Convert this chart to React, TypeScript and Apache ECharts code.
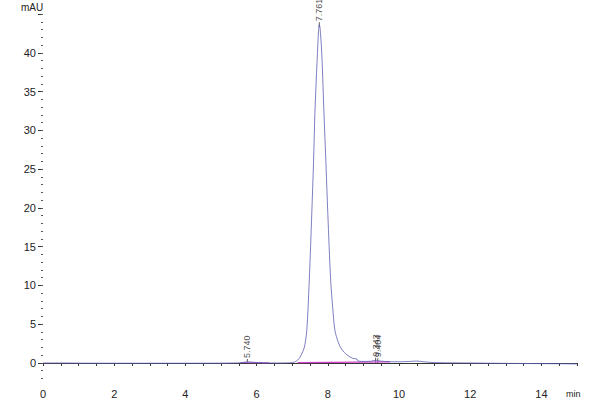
import { useEffect, useRef } from 'react'
import * as echarts from 'echarts'

// retention time (min) / signal (mAU)
const signal: [number, number][] = [
  [0, 0], [0.6, 0], [1, -0.02], [2, -0.03], [3, -0.03], [4, -0.03], [5, -0.02],
  [5.4, 0], [5.6, 0.05], [5.74, 0.15], [5.9, 0.1], [6.2, 0.02], [6.6, 0],
  [7.0, 0.05], [7.1, 0.2], [7.2, 0.6], [7.3, 1.5], [7.35, 2.2], [7.41, 4.2],
  [7.48, 10.7], [7.55, 19.3], [7.6, 26], [7.64, 32.5], [7.7, 39], [7.74, 42.8],
  [7.761, 43.6], [7.78, 43.3], [7.83, 40], [7.89, 32.5], [7.95, 25.5], [8.0, 19.3],
  [8.08, 10.7], [8.14, 7], [8.2, 4.2], [8.3, 2.6], [8.4, 1.7], [8.55, 1.0],
  [8.7, 0.6], [8.82, 0.5], [8.85, 0.25], [9.0, 0.2], [9.2, 0.22], [9.343, 0.35],
  [9.404, 0.3], [9.6, 0.2], [10, 0.15], [10.3, 0.2], [10.5, 0.25], [10.7, 0.15],
  [11, 0.05], [12, 0], [13, -0.05], [14, -0.08], [15, -0.12],
]

// integration baselines
const baselineA: [number, number][] = [[5.55, 0.05], [6.35, 0.02]]
const baselineB: [number, number][] = [[7.15, 0.05], [9.75, 0.15]]

// peak labels: retention time, anchor height
const peakTimes = ['5.740', '7.761', '9.343', '9.404']
const peakHeights = [0.2, 43.6, 0.35, 0.3]

const xLabels = [0, 2, 4, 6, 8, 10, 12, 14]
const xTicks = [0, 0.5, 1, 1.5, 2, 2.5, 3, 3.5, 4, 4.5, 5, 5.5, 6, 6.5, 7, 7.5, 8, 8.5, 9, 9.5, 10, 10.5, 11, 11.5, 12, 12.5, 13, 13.5, 14, 14.5, 15]
const yLabels = [0, 5, 10, 15, 20, 25, 30, 35, 40]
const yMajorTicks = [0, 5, 10, 15, 20, 25, 30, 35, 40, 45]
const yMinorTicks = [-2, -1, 0, 1, 2, 3, 4, 5, 6, 7, 8, 9, 10, 11, 12, 13, 14, 15, 16, 17, 18, 19, 20, 21, 22, 23, 24, 25, 26, 27, 28, 29, 30, 31, 32, 33, 34, 35, 36, 37, 38, 39, 40, 41, 42, 43, 44, 45]

const FONT = '"Liberation Sans Narrow", "Liberation Sans", Arial, sans-serif'

export default function App() {
  const chartRef = useRef<HTMLDivElement>(null)

  useEffect(() => {
    if (!chartRef.current) return
    const chart = echarts.init(chartRef.current, undefined, { renderer: 'svg' })

    const option: echarts.EChartsOption = {
      animation: false,
      backgroundColor: '#fff',
      textStyle: { fontFamily: FONT },
      grid: { left: 43, right: 23, top: 14, bottom: 21.5 },
      xAxis: {
        type: 'value',
        min: 0,
        max: 15,
        offset: 3.5,
        splitLine: { show: false },
        axisLine: { lineStyle: { color: '#333', width: 1 } },
        axisTick: { customValues: xTicks, length: 3, lineStyle: { color: '#333' } },
        axisLabel: { customValues: xLabels, color: '#222', fontSize: 11, margin: 6, fontFamily: FONT },
      },
      yAxis: [
        {
          type: 'value',
          min: -2,
          max: 45,
          splitLine: { show: false },
          axisLine: { show: false },
          axisTick: { show: true, customValues: yMajorTicks, length: 5, lineStyle: { color: '#333' } },
          axisLabel: { customValues: yLabels, color: '#222', fontSize: 11, margin: 7, fontFamily: FONT },
        },
        {
          type: 'value',
          min: -2,
          max: 45,
          position: 'left',
          splitLine: { show: false },
          axisLine: { show: false },
          axisTick: { show: true, customValues: yMinorTicks, length: 2, lineStyle: { color: '#555' } },
          axisLabel: { show: false },
        },
      ],
      graphic: [
        { type: 'text', left: 21, top: 2, style: { text: 'mAU', fontSize: 10, fill: '#222', fontFamily: FONT } },
        { type: 'text', left: 566, top: 389, style: { text: 'min', fontSize: 9, fill: '#222', fontFamily: FONT } },
      ],
      series: [
        {
          type: 'line',
          data: baselineA,
          showSymbol: false,
          lineStyle: { color: '#c050d0', width: 1 },
          silent: true,
        },
        {
          type: 'line',
          data: baselineB,
          showSymbol: false,
          lineStyle: { color: '#d040c8', width: 1.2 },
          silent: true,
        },
        {
          type: 'line',
          data: signal,
          showSymbol: false,
          smooth: 0.3,
          lineStyle: { color: '#5e5eb4', width: 0.8 },
          silent: true,
        },
        {
          type: 'scatter',
          data: peakTimes.map((t, i) => [Number(t), peakHeights[i]]),
          symbol: 'rect',
          symbolSize: [1, 5],
          itemStyle: { color: '#333' },
          silent: true,
          label: {
            show: true,
            position: 'top',
            rotate: 90,
            align: 'left',
            verticalAlign: 'middle',
            distance: 1,
            fontSize: 9,
            color: '#222',
            fontFamily: FONT,
            formatter: (p: any) => peakTimes[p.dataIndex],
          },
        },
      ],
    }

    chart.setOption(option)
    return () => chart.dispose()
  }, [])

  return <div ref={chartRef} style={{ position: 'absolute', left: 0, top: 0, width: 600, height: 400 }} />
}
